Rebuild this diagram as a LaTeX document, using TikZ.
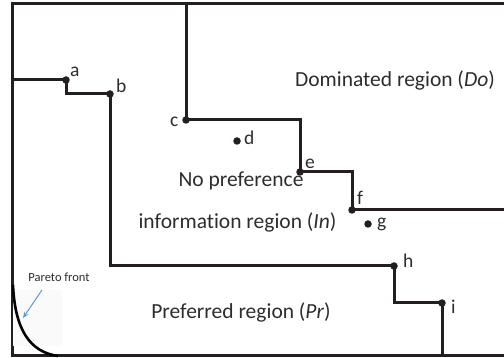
\documentclass[tikz,border=0pt]{standalone}
\usepackage{fontspec}
\setmainfont{Carlito}[Ligatures=NoCommon]
\usetikzlibrary{arrows.meta}
\definecolor{ink}{RGB}{35,31,32}
\definecolor{txt}{RGB}{45,45,45}
\definecolor{arrowblue}{RGB}{91,155,213}
\tikzset{
  frame/.style={draw=ink, line width=3pt},
  front/.style={draw=ink, line width=3pt, line join=miter},
  pt/.style={circle, fill=ink, inner sep=0pt, minimum size=7.5pt},
  lbl/.style={text=txt, font=\fontsize{19.5}{21}\selectfont, anchor=base west, inner sep=0pt},
  region/.style={text=txt, font=\fontsize{21.5}{24}\selectfont, anchor=base, inner sep=0pt},
}
\begin{document}
\begin{tikzpicture}[x=1pt,y=-1pt]
\useasboundingbox (0,0) rectangle (504,358);
% frame
\coordinate (tl) at (12,4);
\coordinate (tr) at (504,4);
\coordinate (bl) at (12,356);
\coordinate (br) at (504,356);
\draw[frame] (tr) -- (tl) -- (bl) -- (br);
% points
\node[pt] (a) at (66,80) {};
\node[pt] (b) at (110,94) {};
\node[pt] (c) at (186,120) {};
\node[pt] (d) at (237,141) {};
\node[pt] (e) at (300,172) {};
\node[pt] (f) at (352,210) {};
\node[pt] (g) at (368,224) {};
\node[pt] (h) at (394,266) {};
\node[pt] (i) at (442,303) {};
% boundary coordinates
\coordinate (aL) at (12,80);
\coordinate (cT) at (186,4);
\coordinate (fR) at (504,210);
\coordinate (iB) at (442,356);
% upper front (dominated boundary)
\draw[front] (cT) -- (c.center) -- (300,120) -- (e.center) -- (352,172) -- (f.center) -- (fR);
% lower front (preferred boundary)
\draw[front] (aL) -- (a.center) -- (66,94) -- (b.center) -- (110,266) -- (h.center) -- (394,303) -- (i.center) -- (iB);
% labels
\node[lbl] at (70,77) {a};
\node[lbl] at (116,93) {b};
\node[lbl] at (170,127) {c};
\node[lbl] at (244,145) {d};
\node[lbl] at (305,169) {e};
\node[lbl] at (357,205) {f};
\node[lbl] at (377,228) {g};
\node[lbl] at (403,268) {h};
\node[lbl] at (451,314) {i};
% region texts
\node[region] (do) at (395,87) {Dominated region (\textit{Do})};
\node[region] (np) at (241,187) {No preference};
\node[region] (in) at (237.5,229) {information region (\textit{In})};
\node[region] (pr) at (241,319) {Preferred region (\textit{Pr})};
% Pareto front
\fill[black!2] (13,290) rectangle (62,346);
\draw[draw=black, line width=2.6pt] (13,285) .. controls (15,330) and (30,352) .. (58,356);
\node[text=txt, font=\fontsize{12.5}{14}\selectfont, anchor=base, inner sep=0pt] (pf) at (59,282) {Pareto front};
\coordinate (arrS) at (42,290);
\coordinate (arrE) at (23,318);
\draw[arrowblue, line width=1pt, -{Stealth[length=6pt,width=5pt]}] (arrS) -- (arrE);
\end{tikzpicture}
\end{document}
